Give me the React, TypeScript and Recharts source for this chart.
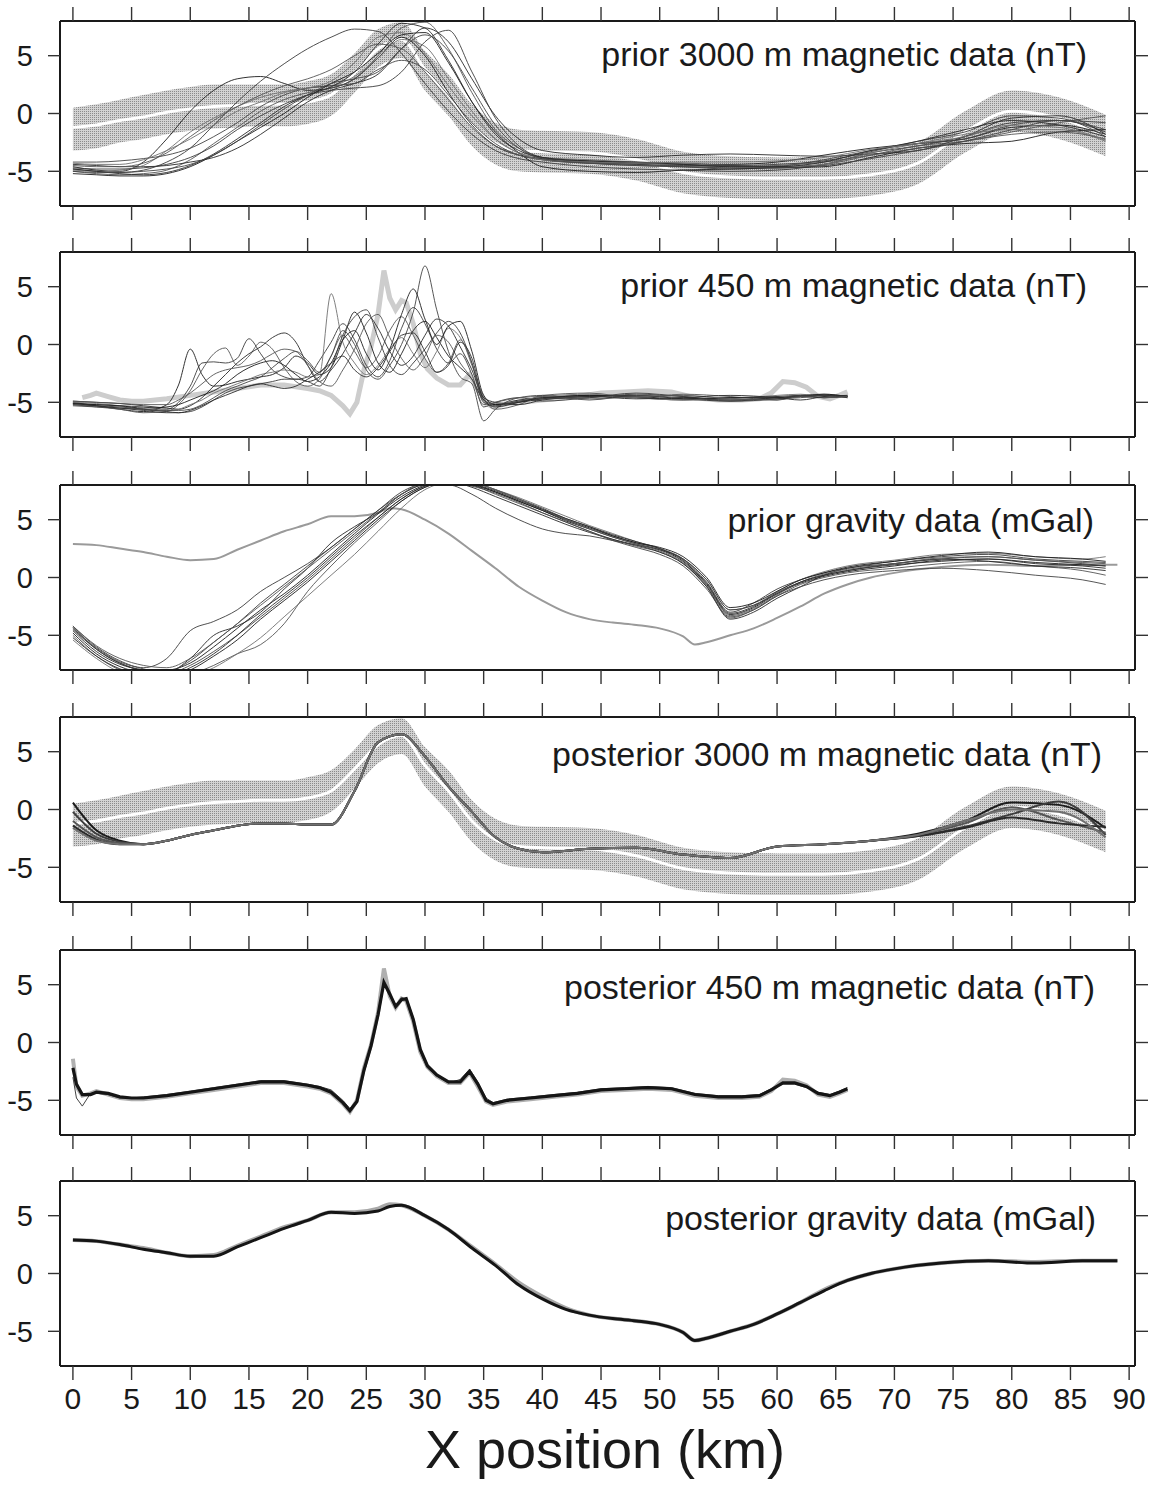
import React from "react";
import { Area, ComposedChart, Line, XAxis, YAxis } from "recharts";

const FONT = "'Liberation Sans', Arial, Helvetica, sans-serif";
const X_TICKS = [0, 5, 10, 15, 20, 25, 30, 35, 40, 45, 50, 55, 60, 65, 70, 75, 80, 85, 90];
const Y_TICKS = [-5, 0, 5];
const X_DOMAIN = [-1.1, 90.5];
const FRAME_H = 185;

// 3000 m magnetic profile (panels 1 and 4)
const x3000 = [0, 2, 4, 6, 8, 10, 12, 14, 16, 18, 20, 22, 24, 26, 28, 30, 32, 34, 36, 38, 40, 44, 48, 52, 56, 60, 64, 68, 72, 76, 80, 84, 88];
const obs3000 = [-1.2, -1.0, -0.6, -0.3, 0.1, 0.4, 0.6, 0.7, 0.8, 0.8, 1.0, 1.6, 3.5, 5.6, 6.4, 3.8, 1.6, -1.0, -2.6, -3.2, -3.3, -3.4, -4.0, -5.1, -5.5, -5.6, -5.6, -5.3, -4.3, -1.6, 0.2, -0.4, -1.9];
const obs3000High = [0.5, 0.8, 1.2, 1.6, 2.0, 2.3, 2.5, 2.5, 2.5, 2.5, 2.8, 3.4, 5.2, 7.3, 7.9, 5.4, 3.4, 0.8, -0.8, -1.4, -1.5, -1.6, -2.2, -3.3, -3.7, -3.8, -3.8, -3.5, -2.5, 0.2, 2.0, 1.4, -0.1];
const obs3000Low = [-3.2, -3.0, -2.5, -2.2, -1.8, -1.5, -1.3, -1.2, -1.1, -1.1, -0.9, -0.2, 1.8, 4.0, 4.8, 2.0, -0.2, -2.8, -4.4, -5.0, -5.1, -5.2, -5.8, -6.9, -7.3, -7.4, -7.4, -7.1, -6.1, -3.4, -1.6, -2.2, -3.7];

const prior3000Runs = [
  [-4.6, -4.9, -5.0, -4.2, -2.2, 0.2, 2.0, 3.0, 3.2, 2.6, 2.0, 2.2, 3.0, 4.8, 6.6, 5.0, 1.8, -1.0, -2.8, -3.6, -3.9, -4.1, -4.3, -4.4, -4.4, -4.2, -3.6, -3.0, -2.6, -2.2, -1.2, -1.0, -1.8],
  [-4.8, -5.0, -5.1, -4.9, -4.2, -3.0, -1.0, 1.0, 2.8, 4.3, 5.6, 6.6, 7.3, 7.1, 5.2, 2.6, 0.2, -1.8, -3.2, -3.9, -4.2, -4.6, -4.8, -4.9, -5.0, -4.9, -4.4, -3.4, -2.8, -2.0, -0.8, -0.6, -1.6],
  [-5.0, -5.2, -5.3, -5.2, -4.9, -4.0, -2.6, -1.2, 0.2, 1.2, 1.8, 2.2, 3.0, 5.0, 7.4, 7.9, 5.6, 1.8, -1.4, -3.0, -3.8, -4.2, -4.3, -4.3, -4.5, -4.6, -4.4, -3.6, -2.8, -2.4, -1.6, -0.8, -0.2],
  [-4.4, -4.5, -4.6, -4.6, -4.5, -4.2, -3.8, -3.0, -1.8, -0.4, 1.0, 2.0, 2.6, 3.4, 5.6, 7.4, 6.2, 3.0, -0.2, -2.2, -3.2, -3.6, -3.8, -3.6, -3.5, -3.6, -3.7, -3.5, -3.2, -2.0, -0.4, -0.2, -1.8],
  [-4.9, -5.0, -4.9, -4.5, -3.2, -1.6, -0.4, 0.6, 1.4, 1.9, 2.2, 2.4, 3.2, 4.8, 6.4, 5.8, 3.0, 0.2, -2.2, -3.4, -3.8, -4.0, -4.2, -4.3, -4.6, -4.7, -4.4, -3.4, -2.6, -1.8, -1.4, -1.4, -2.4],
  [-4.2, -4.2, -4.1, -3.9, -3.6, -3.0, -2.0, -0.8, 0.6, 1.6, 2.2, 2.4, 2.6, 3.8, 4.6, 3.8, 1.6, -0.8, -2.6, -3.6, -4.0, -4.3, -4.4, -4.6, -4.8, -4.6, -4.0, -3.2, -2.6, -2.2, -1.0, -0.6, -1.4],
  [-5.2, -5.3, -5.4, -5.4, -5.2, -4.6, -3.6, -2.4, -1.2, 0.0, 1.4, 2.6, 3.6, 5.2, 6.8, 7.0, 4.4, 1.0, -1.6, -3.4, -4.6, -5.0, -5.1, -4.9, -4.8, -4.7, -4.6, -3.8, -3.0, -2.6, -2.4, -1.6, -1.4],
  [-4.7, -4.8, -4.8, -4.7, -4.4, -3.8, -2.8, -1.4, -0.2, 0.8, 1.6, 2.0, 2.2, 2.4, 3.6, 6.2, 7.2, 3.6, -0.4, -2.8, -3.8, -4.2, -4.4, -4.5, -4.5, -4.4, -4.1, -3.3, -2.4, -1.6, -0.2, -0.4, -2.0],
  [-4.5, -4.6, -4.6, -4.3, -3.4, -2.0, -0.6, 0.6, 1.6, 2.4, 3.0, 3.8, 5.0, 6.0, 5.6, 3.6, 1.2, -1.2, -2.8, -3.6, -4.0, -4.3, -4.5, -4.6, -4.6, -4.5, -4.2, -3.6, -3.0, -2.4, -1.8, -1.6, -2.2],
  [-4.8, -5.0, -5.2, -5.3, -5.1, -4.5, -3.5, -2.2, -0.8, 0.6, 1.6, 2.3, 3.6, 6.0, 7.8, 7.4, 4.6, 1.0, -1.8, -3.2, -3.8, -4.1, -4.2, -4.4, -4.6, -4.6, -4.2, -3.2, -2.4, -1.4, -0.6, -1.0, -2.0],
  [-4.3, -4.4, -4.4, -4.0, -3.2, -2.2, -1.0, 0.2, 1.0, 1.8, 2.2, 2.8, 4.4, 6.6, 7.0, 5.2, 2.4, -0.2, -2.2, -3.4, -4.0, -4.2, -4.3, -4.2, -4.2, -4.1, -3.8, -3.1, -2.6, -2.0, -1.0, -1.2, -2.3],
  [-5.0, -5.1, -5.1, -5.0, -4.8, -4.4, -3.6, -2.4, -1.0, 0.4, 1.6, 2.6, 3.0, 3.6, 5.6, 6.8, 5.4, 2.2, -1.0, -3.0, -3.9, -4.3, -4.5, -4.6, -4.7, -4.7, -4.5, -3.9, -3.2, -2.4, -1.4, -0.6, -0.8],
];

const post3000Runs = [
  [0.6, -1.8, -2.7, -3.0, -2.7, -2.2, -1.8, -1.4, -1.2, -1.2, -1.3, -1.3, 1.6, 5.8, 6.5, 4.6, 2.0, -0.2, -2.4, -3.4, -3.7, -3.4, -3.3, -3.9, -4.2, -3.2, -3.0, -2.7, -2.1, -1.0, 0.6, 0.4, -1.6],
  [-0.2, -2.1, -2.8, -3.0, -2.7, -2.2, -1.8, -1.4, -1.2, -1.2, -1.3, -1.3, 1.6, 5.8, 6.5, 4.6, 2.0, -0.2, -2.4, -3.4, -3.7, -3.4, -3.3, -3.9, -4.2, -3.2, -3.0, -2.7, -2.3, -1.5, -0.4, 0.7, -2.2],
  [-1.0, -2.4, -2.9, -3.0, -2.7, -2.2, -1.8, -1.4, -1.2, -1.2, -1.3, -1.3, 1.6, 5.8, 6.5, 4.6, 2.0, -0.2, -2.4, -3.4, -3.7, -3.4, -3.3, -3.9, -4.2, -3.2, -3.0, -2.7, -2.2, -1.2, 0.2, -0.9, -2.0],
  [-1.4, -2.6, -3.0, -3.0, -2.7, -2.2, -1.8, -1.4, -1.2, -1.2, -1.3, -1.3, 1.6, 5.8, 6.5, 4.6, 2.0, -0.2, -2.4, -3.4, -3.7, -3.4, -3.3, -3.9, -4.2, -3.2, -3.0, -2.7, -2.3, -1.6, -0.7, -1.2, -1.5],
  [-1.6, -2.7, -3.0, -3.0, -2.7, -2.2, -1.8, -1.4, -1.2, -1.2, -1.3, -1.3, 1.6, 5.8, 6.5, 4.6, 2.0, -0.2, -2.4, -3.4, -3.7, -3.4, -3.3, -3.9, -4.2, -3.2, -3.0, -2.7, -2.2, -1.0, 0.0, -0.2, -2.4],
];

// 450 m magnetic profile (panels 2 and 5)
const x450prior = [0, 2, 4, 6, 8, 9, 10, 11, 12, 13, 14, 15, 16, 17, 18, 19, 20, 21, 22, 23, 24, 25, 26, 27, 28, 29, 30, 31, 32, 33, 34, 35, 36, 38, 40, 44, 48, 52, 56, 60, 62, 64, 66];
const prior450Runs = [
  [-5.0, -5.3, -5.6, -5.8, -5.2, -3.5, -0.4, -2.6, -3.6, -3.5, -3.2, -3.0, -2.8, -2.6, -2.0, -1.0, -1.6, -2.6, -2.0, 0.4, 2.8, 1.0, -1.6, -2.4, -0.8, 1.2, 2.0, 0.6, -1.0, -2.0, -3.0, -4.8, -5.2, -4.8, -4.6, -4.4, -4.6, -4.8, -4.6, -4.5, -4.4, -4.6, -4.5],
  [-5.1, -5.2, -5.3, -5.4, -5.6, -5.0, -3.6, -1.6, -1.5, -1.6, -1.2, 0.5, -0.8, -2.2, -2.8, -3.0, -2.8, -1.4, 0.2, 1.8, 0.4, -1.8, -2.8, -1.4, 1.4, 3.2, 1.8, -0.4, -1.6, -0.8, -2.6, -5.4, -5.0, -4.6, -4.9, -4.6, -4.2, -4.5, -4.8, -4.6, -4.5, -4.6, -4.4],
  [-5.2, -5.4, -5.6, -5.9, -5.8, -5.2, -4.0, -2.2, -0.8, -0.3, -1.8, -1.0, 0.2, -0.4, -2.0, -3.2, -3.6, -3.0, -1.0, 0.8, -0.6, -2.0, -1.0, 1.2, 2.4, 0.8, -1.2, -2.4, -1.6, 0.4, -1.8, -4.6, -5.6, -5.2, -4.4, -4.2, -4.6, -4.3, -4.5, -4.8, -4.4, -4.3, -4.5],
  [-4.9, -5.0, -5.1, -5.3, -5.5, -5.6, -5.3, -4.6, -3.6, -2.6, -1.6, -0.8, -0.2, 0.6, 1.0, 0.2, -1.8, -3.2, -2.2, -0.8, 1.0, 2.6, 1.4, -0.6, -1.8, -1.0, 0.8, 2.2, 1.6, -0.2, -2.2, -4.6, -5.0, -5.2, -4.8, -4.5, -4.4, -4.7, -4.9, -4.6, -4.5, -4.4, -4.6],
  [-5.0, -5.1, -5.3, -5.6, -5.7, -5.6, -5.2, -4.8, -4.2, -3.8, -3.4, -3.0, -2.6, -2.4, -2.2, -2.4, -2.8, -2.6, 4.4, 0.2, -1.6, -2.6, -1.8, -0.4, 0.6, -0.8, -2.0, -0.6, 1.4, 0.6, -1.6, -4.8, -5.1, -4.9, -4.5, -4.3, -4.6, -4.8, -4.7, -4.4, -4.3, -4.5, -4.4],
  [-5.3, -5.4, -5.5, -5.6, -5.7, -5.7, -5.6, -5.2, -4.6, -4.0, -3.6, -3.2, -2.8, -2.0, -1.2, -0.6, -1.4, -2.4, -1.0, 1.2, 0.0, -2.2, -3.0, -1.8, 0.0, 2.8, 6.8, 3.0, -0.6, -2.8, -3.4, -6.6, -5.6, -4.6, -4.4, -4.8, -4.4, -4.6, -4.8, -4.7, -4.6, -4.4, -4.5],
  [-5.1, -5.2, -5.3, -5.5, -5.4, -5.2, -4.8, -4.4, -4.0, -3.4, -2.6, -2.0, -1.6, -1.4, -1.8, -2.6, -3.2, -2.8, -1.6, 0.4, 1.2, -0.8, -2.2, -0.4, 2.6, 4.8, 2.2, 0.0, 1.6, 2.0, -0.6, -4.4, -5.2, -5.0, -4.7, -4.4, -4.5, -4.7, -4.6, -4.6, -4.5, -4.3, -4.5],
  [-5.2, -5.3, -5.4, -5.6, -5.8, -5.9, -5.8, -5.4, -4.8, -4.2, -3.8, -3.6, -3.4, -3.2, -3.0, -3.0, -3.2, -3.6, -2.0, 0.8, 2.4, 3.0, 0.6, -1.8, -2.6, -1.6, -0.4, 1.0, 2.0, 1.0, -1.6, -5.0, -5.3, -4.9, -4.7, -4.6, -4.3, -4.5, -4.9, -4.7, -4.4, -4.4, -4.6],
  [-4.9, -5.0, -5.1, -5.2, -5.2, -4.8, -4.2, -3.4, -2.6, -2.2, -2.0, -1.8, -1.4, -0.8, -0.4, -0.6, -1.8, -3.2, -3.6, -2.2, -0.4, 1.8, 2.6, 0.6, -1.2, -2.2, -1.0, 0.8, 0.2, -1.6, -3.0, -5.2, -5.0, -4.6, -4.5, -4.7, -4.5, -4.4, -4.7, -4.8, -4.5, -4.6, -4.5],
  [-5.1, -5.3, -5.5, -5.7, -5.9, -5.9, -5.7, -5.3, -4.8, -4.4, -4.0, -3.6, -3.4, -3.6, -3.8, -3.6, -3.0, -2.4, -1.6, -1.0, -2.2, -2.8, -2.0, -0.6, 0.8, 1.0, -0.6, -2.4, -1.8, 0.2, -1.2, -4.8, -5.4, -5.0, -4.6, -4.5, -4.7, -4.6, -4.4, -4.6, -4.8, -4.5, -4.4],
];

const x450 = [0, 0.3, 0.8, 1.5, 2, 3, 4, 5, 6, 8, 10, 12, 14, 16, 18, 20, 21, 22, 23, 23.6, 24.2, 24.8, 25.4, 26, 26.5, 27, 27.5, 28, 28.4, 29, 29.6, 30.2, 31, 32, 33, 33.8, 34.5, 35.2, 35.8, 37, 39, 41, 43, 45, 47, 49, 51, 53, 55, 57, 58.5, 59.5, 60.5, 61.5, 62.5, 63.5, 64.5, 65.3, 66];
const obs450 = [-1.4, -3.8, -4.6, -4.4, -4.2, -4.5, -4.8, -4.9, -4.9, -4.7, -4.4, -4.1, -3.8, -3.5, -3.5, -3.8, -4.0, -4.4, -5.3, -6.0, -5.0, -2.2, -0.2, 2.6, 6.4, 4.0, 3.0, 3.8, 3.6, 1.8, -0.8, -2.1, -2.9, -3.5, -3.5, -2.6, -3.8, -5.1, -5.4, -5.1, -4.9, -4.7, -4.5, -4.2, -4.1, -4.0, -4.1, -4.6, -4.8, -4.8, -4.7, -4.2, -3.2, -3.3, -3.7, -4.5, -4.7, -4.4, -4.1];
const post450 = [-2.2, -3.6, -4.5, -4.5, -4.3, -4.4, -4.7, -4.8, -4.8, -4.6, -4.3, -4.0, -3.7, -3.4, -3.4, -3.7, -3.9, -4.3, -5.2, -5.9, -5.1, -2.4, -0.3, 2.4, 5.2, 4.2, 3.1, 3.7, 3.8, 2.0, -0.6, -2.0, -2.8, -3.4, -3.4, -2.5, -3.6, -5.0, -5.3, -5.0, -4.8, -4.6, -4.4, -4.1, -4.0, -3.9, -4.0, -4.5, -4.7, -4.7, -4.6, -4.1, -3.5, -3.5, -3.8, -4.4, -4.6, -4.3, -4.0];
const post450b = [-3.0, -4.8, -5.5, -4.4, -4.4, -4.5, -4.8, -4.8, -4.7, -4.5, -4.2, -3.9, -3.6, -3.3, -3.3, -3.6, -3.8, -4.1, -5.0, -5.7, -5.0, -2.6, -0.5, 2.2, 5.0, 4.0, 3.2, 3.9, 3.7, 1.8, -0.8, -2.2, -2.9, -3.5, -3.2, -2.3, -3.4, -4.8, -5.2, -4.9, -4.7, -4.5, -4.3, -4.0, -3.9, -3.8, -3.9, -4.4, -4.6, -4.6, -4.5, -4.0, -3.6, -3.6, -3.9, -4.3, -4.5, -4.2, -3.9];

// gravity profile (panels 3 and 6)
const xGravPrior = [0, 2, 4, 6, 8, 10, 12, 14, 16, 18, 20, 22, 24, 26, 28, 30, 32, 34, 36, 38, 40, 42, 44, 46, 48, 50, 52, 54, 56, 58, 60, 62, 64, 66, 70, 74, 78, 82, 86, 88];
const priorGravRuns = [
  [-4.3, -6.2, -7.4, -8.0, -8.0, -7.4, -6.0, -4.4, -2.8, -1.4, 0.2, 2.0, 3.8, 5.5, 7.0, 8.0, 8.4, 8.1, 7.4, 6.6, 5.8, 4.9, 4.2, 3.5, 2.9, 2.4, 1.4, -0.6, -3.2, -2.6, -1.4, -0.5, 0.1, 0.5, 1.0, 1.5, 1.6, 1.3, 1.1, 1.0],
  [-4.2, -6.0, -7.2, -7.8, -7.0, -4.6, -3.8, -2.8, -1.2, 0.0, 1.2, 2.6, 4.2, 5.8, 7.4, 8.2, 8.5, 8.2, 7.6, 6.8, 6.0, 5.1, 4.4, 3.6, 3.0, 2.5, 1.6, -0.4, -3.0, -2.2, -1.0, -0.2, 0.4, 0.8, 1.4, 1.8, 2.0, 1.6, 1.4, 1.3],
  [-5.0, -6.8, -8.0, -8.6, -8.9, -8.4, -7.6, -6.6, -5.8, -4.0, -1.2, 1.0, 3.0, 4.8, 6.6, 7.8, 8.3, 8.0, 7.2, 6.4, 5.6, 4.8, 4.0, 3.3, 2.7, 2.2, 1.2, -0.8, -3.5, -2.8, -1.6, -0.6, 0.0, 0.4, 0.8, 1.2, 1.4, 1.0, 0.6, 0.2],
  [-4.6, -6.4, -7.5, -8.0, -8.2, -7.0, -5.0, -4.2, -3.0, -1.0, 0.8, 3.0, 4.4, 5.6, 7.2, 8.1, 8.3, 7.8, 7.0, 6.2, 5.4, 4.6, 3.9, 3.3, 2.8, 2.2, 1.2, -0.8, -3.6, -3.0, -1.8, -0.8, 0.2, 0.8, 1.2, 1.6, 1.4, 1.0, 0.8, 0.6],
  [-5.4, -7.0, -8.2, -8.7, -9.0, -8.6, -7.8, -6.6, -5.2, -3.4, -1.6, 0.2, 2.0, 4.0, 6.0, 7.6, 8.2, 8.2, 7.6, 6.9, 6.1, 5.3, 4.5, 3.8, 3.1, 2.5, 1.6, -0.2, -2.8, -2.4, -1.2, -0.2, 0.5, 1.0, 1.5, 2.0, 2.1, 1.8, 1.6, 1.8],
  [-4.4, -6.1, -7.3, -7.9, -8.3, -7.6, -6.4, -5.0, -3.4, -1.8, -0.2, 1.6, 3.4, 5.2, 6.8, 7.9, 8.2, 7.9, 7.3, 6.5, 5.6, 4.8, 4.0, 3.2, 2.6, 2.0, 1.0, -1.0, -3.4, -2.8, -1.6, -0.8, -0.2, 0.2, 0.6, 0.8, 0.6, 0.2, -0.2, -0.6],
  [-4.8, -6.6, -7.7, -8.3, -8.6, -8.0, -6.8, -5.4, -3.6, -2.0, -0.4, 1.4, 3.2, 5.0, 6.6, 7.8, 8.3, 8.0, 7.4, 6.6, 5.8, 5.0, 4.3, 3.6, 3.0, 2.6, 1.8, 0.0, -2.6, -2.2, -1.2, -0.2, 0.4, 0.9, 1.4, 1.9, 2.2, 1.8, 1.6, 1.4],
  [-4.5, -6.2, -7.4, -8.0, -8.1, -7.2, -5.6, -4.0, -2.2, -0.6, 1.0, 2.6, 4.2, 5.8, 7.2, 8.0, 8.0, 7.2, 6.0, 5.0, 4.2, 3.8, 3.6, 3.2, 2.8, 2.4, 1.6, -0.2, -2.8, -2.4, -1.4, -0.4, 0.2, 0.6, 1.2, 1.6, 1.8, 1.5, 1.2, 1.0],
  [-4.2, -5.9, -7.0, -7.6, -7.8, -7.0, -5.6, -4.0, -2.4, -0.8, 0.8, 2.4, 4.0, 5.6, 7.2, 8.3, 8.6, 8.3, 7.6, 6.8, 5.9, 5.0, 4.2, 3.5, 2.9, 2.3, 1.3, -0.7, -3.3, -2.7, -1.5, -0.4, 0.3, 0.7, 1.2, 1.7, 1.8, 1.5, 1.3, 1.2],
  [-5.2, -6.8, -7.9, -8.4, -8.5, -7.8, -6.6, -5.0, -3.2, -1.6, 0.0, 1.8, 3.6, 5.2, 6.8, 7.9, 8.4, 8.1, 7.5, 6.7, 5.9, 5.1, 4.4, 3.7, 3.1, 2.5, 1.5, -0.5, -3.1, -2.5, -1.3, -0.4, 0.2, 0.6, 1.1, 1.4, 1.6, 1.2, 1.0, 0.8],
];

const xGrav = [0, 2, 4, 6, 8, 10, 12, 14, 16, 18, 20, 22, 24, 26, 27, 28, 30, 32, 34, 36, 38, 40, 42, 44, 46, 48, 50, 52, 53, 54, 56, 58, 60, 62, 64, 66, 68, 70, 74, 78, 82, 86, 89];
const obsGrav = [2.9, 2.8, 2.5, 2.2, 1.8, 1.5, 1.6, 2.4, 3.2, 4.0, 4.6, 5.3, 5.3, 5.6, 6.0, 5.9, 5.0, 3.8, 2.3, 0.8, -0.8, -2.0, -3.0, -3.6, -3.9, -4.1, -4.4, -5.1, -5.8, -5.6, -5.0, -4.4, -3.5, -2.5, -1.4, -0.6, 0.0, 0.4, 0.9, 1.1, 1.0, 1.1, 1.1];
const postGrav = [2.9, 2.8, 2.5, 2.1, 1.8, 1.5, 1.5, 2.3, 3.1, 3.9, 4.6, 5.3, 5.2, 5.4, 5.8, 5.9, 5.0, 3.8, 2.2, 0.7, -1.0, -2.2, -3.1, -3.6, -3.9, -4.1, -4.4, -5.1, -5.8, -5.6, -5.0, -4.4, -3.5, -2.5, -1.5, -0.6, 0.0, 0.4, 0.9, 1.1, 0.9, 1.1, 1.1];

const RUN_COLORS = ["#1c1c1c", "#3c3c3c", "#555555", "#2a2a2a", "#707070", "#444444"];

const pts = (xs: number[], ys: number[]) => xs.map((x, i) => ({ x, y: ys[i] }));
const band = (xs: number[], lo: number[], hi: number[]) => xs.map((x, i) => ({ x, y: [lo[i], hi[i]] }));
const blank = () => "";

const tickStyle = { fontSize: 29, fill: "#1a1a1a", fontFamily: FONT };
const frameLine = { stroke: "#1a1a1a", strokeWidth: 2 };
const tickLineStyle = { stroke: "#333", strokeWidth: 1.4 };

function runs(xs: number[], list: number[][], width = 0.9, type: any = "monotone") {
  return list.map((ys, i) => (
    <Line
      key={"r" + i}
      xAxisId="b"
      yAxisId="l"
      data={pts(xs, ys)}
      dataKey="y"
      type={type}
      stroke={RUN_COLORS[i % RUN_COLORS.length]}
      strokeWidth={width}
      dot={false}
      activeDot={false}
      isAnimationActive={false}
    />
  ));
}

function obsBand(xs: number[], mid: number[], lo: number[], hi: number[]) {
  return [
    <Area
      key="band"
      xAxisId="b"
      yAxisId="l"
      data={band(xs, lo, hi)}
      dataKey="y"
      type="monotone"
      stroke="none"
      fill="url(#stipple)"
      fillOpacity={1}
      dot={false}
      activeDot={false}
      isAnimationActive={false}
    />,
    <Line
      key="mid"
      xAxisId="b"
      yAxisId="l"
      data={pts(xs, mid)}
      dataKey="y"
      type="monotone"
      stroke="#ffffff"
      strokeWidth={3}
      dot={false}
      activeDot={false}
      isAnimationActive={false}
    />,
  ];
}

function Panel({ top, last, title, titleRight, titleBase, children }: any) {
  const bottomH = last ? 62 : 30;
  const h = 30 + FRAME_H + bottomH;
  return (
    <div style={{ position: "absolute", left: 0, top: top - 30, width: 1156, height: h }}>
      <ComposedChart width={1156} height={h} margin={{ top: 0, right: 0, bottom: 0, left: 0 }}>
        <defs>
          <pattern id="stipple" width="2" height="2" patternUnits="userSpaceOnUse">
            <rect width="2" height="2" fill="#d2d2d2" />
            <rect width="1" height="1" fill="#8a8a8a" />
          </pattern>
        </defs>
        <XAxis
          xAxisId="t"
          orientation="top"
          type="number"
          dataKey="x"
          domain={X_DOMAIN}
          ticks={X_TICKS}
          allowDataOverflow
          interval={0}
          tickFormatter={blank}
          tickSize={14}
          height={30}
          axisLine={frameLine}
          tickLine={tickLineStyle}
        />
        <XAxis
          xAxisId="b"
          orientation="bottom"
          type="number"
          dataKey="x"
          domain={X_DOMAIN}
          ticks={X_TICKS}
          allowDataOverflow
          interval={0}
          tick={{ ...tickStyle, fontSize: 30 }}
          tickFormatter={last ? undefined : blank}
          tickSize={14}
          tickMargin={8}
          height={bottomH}
          axisLine={frameLine}
          tickLine={tickLineStyle}
        />
        <YAxis
          yAxisId="l"
          orientation="left"
          type="number"
          domain={[-8, 8]}
          ticks={Y_TICKS}
          allowDataOverflow
          interval={0}
          width={60}
          tick={tickStyle}
          tickSize={12}
          tickMargin={15}
          axisLine={frameLine}
          tickLine={tickLineStyle}
        />
        <YAxis
          yAxisId="r"
          orientation="right"
          type="number"
          domain={[-8, 8]}
          ticks={Y_TICKS}
          allowDataOverflow
          interval={0}
          width={21}
          tickFormatter={blank}
          tickSize={13}
          axisLine={frameLine}
          tickLine={tickLineStyle}
        />
        {children}
      </ComposedChart>
      <div
        style={{
          position: "absolute",
          right: 1156 - titleRight,
          top: 30 + titleBase - 29,
          fontFamily: FONT,
          fontSize: 34,
          lineHeight: "34px",
          color: "#1a1a1a",
          whiteSpace: "nowrap",
        }}
      >
        {title}
      </div>
    </div>
  );
}

export default function App() {
  return (
    <div style={{ position: "absolute", left: 0, top: 0, width: 1156, height: 1486, background: "#fff", overflow: "hidden" }}>
      <Panel top={21} title="prior 3000 m magnetic data (nT)" titleRight={1087} titleBase={45}>
        {obsBand(x3000, obs3000, obs3000Low, obs3000High)}
        {runs(x3000, prior3000Runs)}
      </Panel>
      <Panel top={252} title="prior 450 m magnetic data (nT)" titleRight={1087} titleBase={45}>
        <Line xAxisId="b" yAxisId="l" data={pts(x450.slice(2), obs450.slice(2))} dataKey="y" type="linear" stroke="#cdcdcd" strokeWidth={5} dot={false} activeDot={false} isAnimationActive={false} />
        {runs(x450prior, prior450Runs)}
      </Panel>
      <Panel top={485} title="prior gravity data (mGal)" titleRight={1094} titleBase={47}>
        <Line xAxisId="b" yAxisId="l" data={pts(xGrav, obsGrav)} dataKey="y" type="monotone" stroke="#9a9a9a" strokeWidth={2} dot={false} activeDot={false} isAnimationActive={false} />
        {runs(xGravPrior, priorGravRuns)}
      </Panel>
      <Panel top={717} title="posterior 3000 m magnetic data (nT)" titleRight={1102} titleBase={49}>
        {obsBand(x3000, obs3000, obs3000Low, obs3000High)}
        {runs(x3000, post3000Runs, 2)}
      </Panel>
      <Panel top={950} title="posterior 450 m magnetic data (nT)" titleRight={1095} titleBase={49}>
        <Line xAxisId="b" yAxisId="l" data={pts(x450, obs450)} dataKey="y" type="linear" stroke="#b0b0b0" strokeWidth={4} dot={false} activeDot={false} isAnimationActive={false} />
        <Line xAxisId="b" yAxisId="l" data={pts(x450, post450b)} dataKey="y" type="linear" stroke="#444" strokeWidth={1} dot={false} activeDot={false} isAnimationActive={false} />
        <Line xAxisId="b" yAxisId="l" data={pts(x450, post450)} dataKey="y" type="linear" stroke="#151515" strokeWidth={3.2} dot={false} activeDot={false} isAnimationActive={false} />
      </Panel>
      <Panel top={1181} last title="posterior gravity data (mGal)" titleRight={1096} titleBase={49}>
        <Line xAxisId="b" yAxisId="l" data={pts(xGrav, obsGrav)} dataKey="y" type="monotone" stroke="#a8a8a8" strokeWidth={4} dot={false} activeDot={false} isAnimationActive={false} />
        <Line xAxisId="b" yAxisId="l" data={pts(xGrav, postGrav)} dataKey="y" type="monotone" stroke="#151515" strokeWidth={3} dot={false} activeDot={false} isAnimationActive={false} />
      </Panel>
      <div
        style={{
          position: "absolute",
          left: 305,
          width: 600,
          top: 1429,
          textAlign: "center",
          fontFamily: FONT,
          fontSize: 54,
          lineHeight: "40px",
          color: "#1a1a1a",
        }}
      >
        X position (km)
      </div>
    </div>
  );
}
